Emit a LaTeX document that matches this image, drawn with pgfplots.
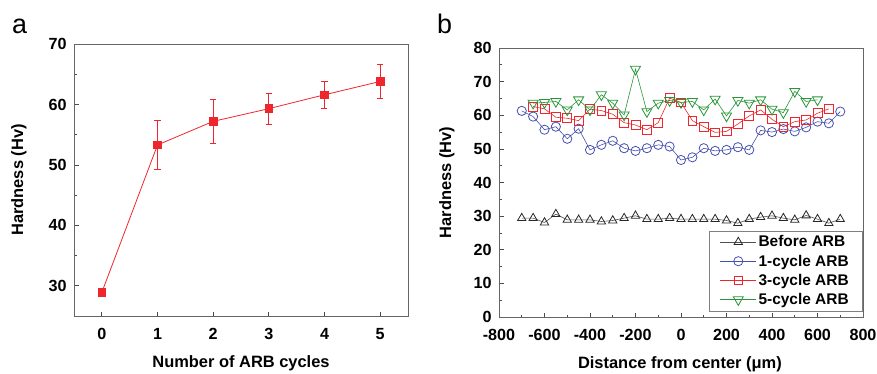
\documentclass[border=0pt]{standalone}
\usepackage{fontspec}
\setmainfont{Liberation Sans}
\usepackage{pgfplots}
\pgfplotsset{compat=1.18}
\definecolor{cred}{RGB}{238,38,45}
\definecolor{cblue}{RGB}{70,80,175}
\definecolor{cgreen}{RGB}{40,150,55}
\definecolor{cblack}{RGB}{40,40,40}
\pgfplotstableread{
x y e
0 28.9 0
1 53.3 4.1
2 57.2 3.7
3 59.3 2.6
4 61.6 2.2
5 63.8 2.8
}\tabA
\pgfplotstableread{
x y
-700 29.4
-650 29.4
-600 28.1
-550 30.6
-500 28.9
-450 28.9
-400 28.9
-350 28.4
-300 28.7
-250 29.4
-200 30.1
-150 29.1
-100 29.1
-50 29.4
0 29.1
50 29.1
100 29.1
150 29.1
200 28.7
250 27.9
300 29.1
350 29.7
400 30.1
450 29.4
500 28.9
550 30.2
600 29.1
650 27.9
700 29.1
}\tabBefore
\pgfplotstableread{
x y
-700 61.3
-650 59.6
-600 55.7
-550 56.6
-500 53.0
-450 56.0
-400 49.7
-350 51.2
-300 52.4
-250 50.2
-200 49.4
-150 50.2
-100 51.2
-50 50.7
0 46.7
50 47.5
100 50.2
150 49.4
200 49.7
250 50.5
300 49.7
350 55.5
400 55.0
450 55.9
500 55.2
550 56.4
600 58.1
650 57.6
700 61.1
}\tabOne
\pgfplotstableread{
x y
-650 62.6
-600 61.9
-550 59.4
-500 59.1
-450 58.4
-400 61.8
-350 61.4
-300 60.3
-250 57.8
-200 57.1
-150 55.7
-100 57.8
-50 65.1
0 63.8
50 58.4
100 56.6
150 54.9
200 55.2
250 57.4
300 59.8
350 61.6
400 58.8
450 56.6
500 58.1
550 58.6
600 60.6
650 61.9
}\tabThree
\pgfplotstableread{
x y
-650 63.6
-600 63.8
-550 64.1
-500 61.6
-450 64.6
-400 61.6
-350 66.1
-300 63.6
-250 60.1
-200 73.7
-150 61.1
-100 63.6
-50 64.4
0 63.8
50 64.1
100 61.6
150 64.8
200 59.8
250 64.4
300 63.6
350 64.6
400 61.8
450 60.8
500 67.1
550 64.1
600 64.6
}\tabFive
\pgfplotsset{
  myaxis/.style={
    scale only axis,
    axis line style={draw=black!60, line width=0.9bp},
    tick style={draw=black!70, line width=0.7bp},
    major tick length=4.5bp,
    minor tick length=2.5bp,
    tick align=inside,
    xtick pos=bottom, ytick pos=left,
    /pgf/number format/assume math mode=true,
    tick label style={font=\bfseries\fontsize{16.2}{18}\selectfont},
    xticklabel style={yshift=-8.5bp},
    yticklabel style={xshift=-4bp},
    label style={font=\bfseries\fontsize{16.5}{18}\selectfont},
    minor tick num=1,
  }
}
\begin{document}
\begin{tikzpicture}
\useasboundingbox (0,0) rectangle (877bp,-374bp);
\node[anchor=base west, inner sep=0pt, font=\fontsize{27}{29}\selectfont] at (12bp,-33bp) {a};
\node[anchor=base west, inner sep=0pt, font=\fontsize{27}{29}\selectfont] at (437bp,-33bp) {b};
\begin{axis}[myaxis,
  at={(74bp,-316bp)}, anchor=south west,
  width=334bp, height=272bp,
  xmin=-0.5, xmax=5.5, ymin=25, ymax=70,
  xtick={0,1,2,3,4,5}, ytick={30,40,50,60,70},
  minor x tick num=0,
  xlabel={Number of ARB cycles}, ylabel={Hardness (Hv)},
  xlabel style={at={(axis description cs:0.5,-0.175)}, anchor=center},
  ylabel style={at={(axis description cs:-0.165,0.5)}, anchor=center},
]
\addplot[cred, line width=0.8bp, mark=square*, mark size=3.8bp,
  error bars/.cd, y dir=both, y explicit,
  error bar style={line width=0.8bp, cred},
  error mark options={rotate=90, mark size=3bp, line width=0.8bp, cred}]
  table[x=x, y=y, y error=e] {\tabA};
\end{axis}
\begin{axis}[myaxis,
  at={(499bp,-317bp)}, anchor=south west,
  width=364bp, height=269bp,
  xmin=-800, xmax=800, ymin=0, ymax=80,
  xtick={-800,-600,...,800}, ytick={0,10,...,80},
  xlabel={Distance from center (μm)}, ylabel={Hardness (Hv)},
  xlabel style={at={(axis description cs:0.497,-0.175)}, anchor=center},
  ylabel style={at={(axis description cs:-0.143,0.5)}, anchor=center},
  legend style={at={(0.997,0.022)}, anchor=south east, draw=black!50,
    font=\bfseries\fontsize{15.5}{17}\selectfont, row sep=2.5bp,
    inner xsep=11bp, inner ysep=3bp},
  legend cell align=left,
  legend image code/.code={\draw[mark repeat=2,mark phase=2,#1] plot coordinates {(0bp,0bp)(18bp,0bp)(36bp,0bp)};},
]
\addplot[cblack!80, line width=0.6bp, mark=triangle, mark size=4.8bp, mark options={solid, line width=0.8bp, draw=cblack}] table {\tabBefore};
\addlegendentry{Before ARB}
\addplot[cblue, line width=0.6bp, mark=o, mark size=4.6bp, mark options={line width=0.8bp}] table {\tabOne};
\addlegendentry{1-cycle ARB}
\addplot[cred, line width=0.6bp, mark=square, mark size=4.4bp, mark options={line width=0.8bp}] table {\tabThree};
\addlegendentry{3-cycle ARB}
\addplot[cgreen, line width=0.6bp, mark=triangle, mark size=5.8bp, mark options={rotate=180, line width=0.8bp}] table {\tabFive};
\addlegendentry{5-cycle ARB}
\end{axis}
\end{tikzpicture}
\end{document}
